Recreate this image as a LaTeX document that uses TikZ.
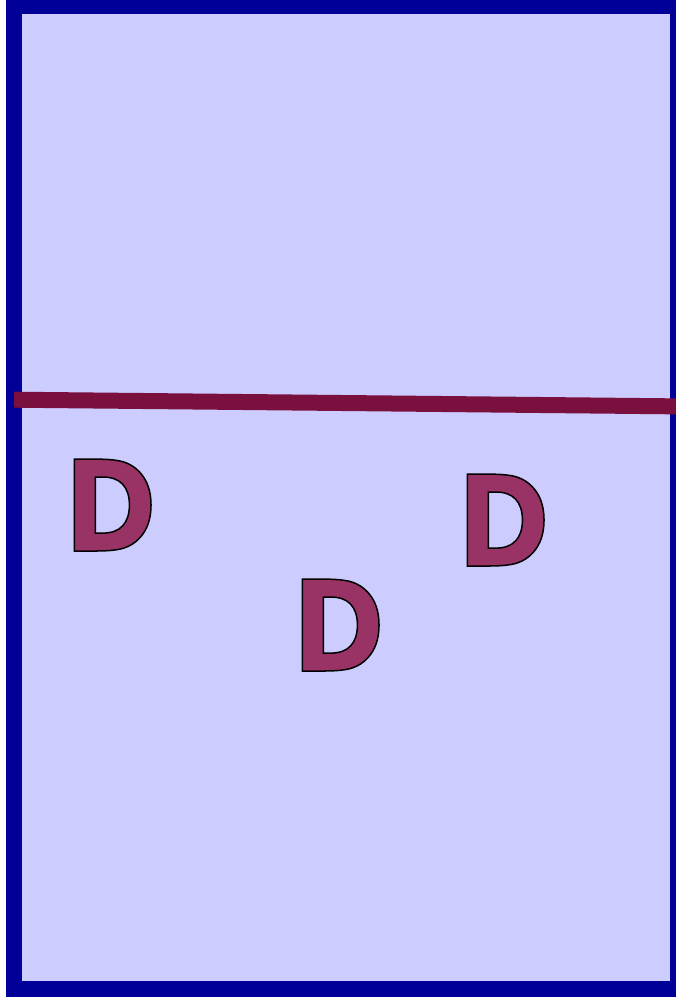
\documentclass[tikz,border=0pt]{standalone}
\usepackage{fontspec}
\newfontfamily\dfont{DejaVu Sans Bold}[FakeStretch=0.886]
\definecolor{bblue}{RGB}{0,0,153}
\definecolor{lav}{RGB}{204,204,255}
\definecolor{lmaroon}{RGB}{122,16,62}
\definecolor{dfill}{RGB}{153,51,102}
\newcommand{\outlinedD}{{\color{dfill}\special{pdf:literal direct 0 G 1.5 w 2 Tr}D\special{pdf:literal direct 0 Tr}}}
\tikzset{
  bigD/.style={inner sep=0pt, anchor=base west, font=\dfont\fontsize{126}{126}\selectfont},
}
\begin{document}
\begin{tikzpicture}[x=1pt,y=-1pt]
\useasboundingbox (0,0) rectangle (675,1000);
\fill[white] (0,0) rectangle (675,1000);
\draw[line width=16pt, draw=bblue, fill=lav] (14,6) rectangle (678,989);
\coordinate (la) at (14,399.7);
\coordinate (lb) at (690,406.5);
\draw[line width=16pt, lmaroon] (la) -- (lb);
\node[bigD] (d1) at (64,551) {\outlinedD};
\node[bigD] (d2) at (292,671) {\outlinedD};
\node[bigD] (d3) at (457,566) {\outlinedD};
\end{tikzpicture}
\end{document}
